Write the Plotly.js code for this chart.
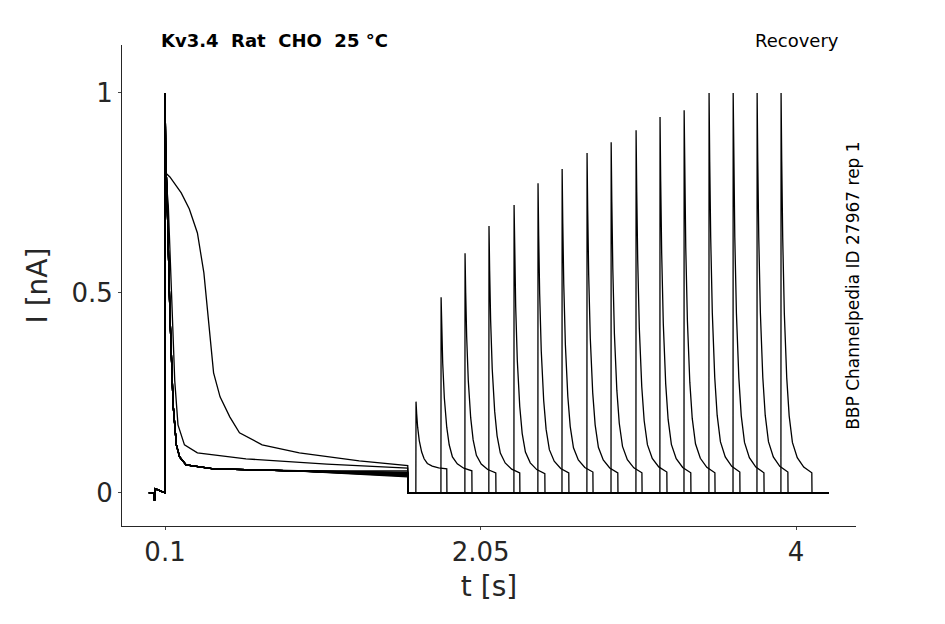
<!DOCTYPE html>
<html>
<head>
<meta charset="utf-8">
<script src="https://cdn.plot.ly/plotly-3.0.1.min.js"></script>
</head>
<body style="margin:0">
<div id="chart" style="width:945px;height:624px"></div>
<script>
// second pulse onset times (s) and peak currents (nA) per sweep
var pulse2Start = [1.651, 1.806, 1.954, 2.102, 2.257, 2.405, 2.554, 2.708, 2.857, 3.011, 3.159, 3.308, 3.462, 3.611, 3.759, 3.907];
var pulse2Peak = [0.228, 0.489, 0.599, 0.667, 0.72, 0.774, 0.81, 0.85, 0.877, 0.907, 0.94, 0.957, 1.0, 1.0, 1.0, 1.0];
// steady level at end of first pulse and after second pulse
var tail1 = [0.068, 0.062, 0.055, 0.05, 0.048, 0.045, 0.05, 0.042, 0.046, 0.052, 0.044, 0.047, 0.04, 0.049, 0.043, 0.046];
var tail2 = [0.06, 0.055, 0.05, 0.05, 0.048, 0.05, 0.052, 0.05, 0.05, 0.052, 0.05, 0.05, 0.052, 0.05, 0.052, 0.05];

// first pulse shapes (time after 0.1 s, current)
var fastT = [0, 0.004, 0.015, 0.03, 0.05, 0.07, 0.09, 0.13, 0.3, 0.8, 1.5];
var fastI = [1.0, 0.85, 0.7, 0.45, 0.22, 0.12, 0.09, 0.07, 0.06, 0.055, 0.05];
var slowT = [0, 0.004, 0.03, 0.1, 0.15, 0.2, 0.24, 0.27, 0.3, 0.34, 0.4, 0.46, 0.6, 0.83, 1.2, 1.5];
var slowI = [0.95, 0.8, 0.79, 0.75, 0.71, 0.65, 0.55, 0.42, 0.3, 0.24, 0.19, 0.15, 0.12, 0.1, 0.08, 0.068];
var midT = [0, 0.004, 0.02, 0.04, 0.06, 0.08, 0.12, 0.2, 0.5, 1.0, 1.5];
var midI = [0.95, 0.8, 0.72, 0.48, 0.28, 0.17, 0.12, 0.1, 0.085, 0.072, 0.062];
// second pulse shape (time after onset, fraction of peak above tail)
var p2T = [0, 0.004, 0.01, 0.02, 0.035, 0.05, 0.07, 0.1, 0.14, 0.19];
var p2F = [1.0, 0.82, 0.62, 0.42, 0.25, 0.15, 0.08, 0.04, 0.015, 0.0];

var traces = [];
for (var s = 0; s < pulse2Start.length; s++) {
  var x = [0, 0.03, 0.035, 0.04, 0.099], y = [0, 0, -0.02, 0.01, 0];
  var T = fastT, I = fastI;
  if (s === 0) { T = slowT; I = slowI; }
  if (s === 1) { T = midT; I = midI; }
  for (var k = 0; k < T.length; k++) {
    x.push(0.1 + T[k]);
    var v = I[k];
    if (s > 1 && k === T.length - 1) v = tail1[s];
    y.push(v);
  }
  x.push(1.6, 1.601); y.push(tail1[s], 0);
  var t0 = pulse2Start[s];
  x.push(t0 - 0.001); y.push(0);
  for (var k = 0; k < p2T.length; k++) {
    x.push(t0 + p2T[k]);
    y.push(tail2[s] + (pulse2Peak[s] - tail2[s]) * p2F[k]);
  }
  x.push(t0 + 0.191, t0 + 0.2, 4.2); y.push(0, 0, 0);
  traces.push({x: x, y: y, type: 'scatter', mode: 'lines',
    line: {color: '#000', width: 1.3}, hoverinfo: 'none', showlegend: false});
}

var layout = {
  width: 945, height: 624,
  margin: {l: 122, r: 89, t: 45, b: 98},
  paper_bgcolor: '#fff', plot_bgcolor: '#fff',
  font: {family: 'DejaVu Sans', color: '#262626'},
  xaxis: {range: [-0.166, 4.37], tickvals: [0.1, 2.05, 4], ticktext: ['0.1', '2.05', '4'],
    showgrid: false, zeroline: false, showline: true, linecolor: '#262626', linewidth: 1,
    ticks: 'outside', ticklen: 3, tickfont: {size: 26},
    title: {text: 't [s]', font: {size: 28}, standoff: 10}},
  yaxis: {range: [-0.083, 1.12], tickvals: [0, 0.5, 1], ticktext: ['0', '0.5', '1'],
    showgrid: false, zeroline: false, showline: true, linecolor: '#262626', linewidth: 1,
    ticks: 'outside', ticklen: 3, tickfont: {size: 26},
    title: {text: 'I [nA]', font: {size: 28}, standoff: 15}},
  annotations: [
    {text: '<b>Kv3.4  Rat  CHO  25 °C</b>', xref: 'paper', yref: 'paper', x: 0.05, y: 1.01,
      xanchor: 'left', yanchor: 'middle', showarrow: false, font: {size: 18, color: '#000'}},
    {text: 'Recovery', xref: 'paper', yref: 'paper', x: 0.98, y: 1.01,
      xanchor: 'right', yanchor: 'middle', showarrow: false, font: {size: 18, color: '#000'}},
    {text: 'BBP Channelpedia ID 27967 rep 1', xref: 'paper', yref: 'paper', x: 0.995, y: 0.5,
      xanchor: 'center', yanchor: 'middle', textangle: -90, showarrow: false, font: {size: 17, color: '#000'}}
  ]
};
Plotly.newPlot('chart', traces, layout, {displayModeBar: false});
</script>
</body>
</html>
